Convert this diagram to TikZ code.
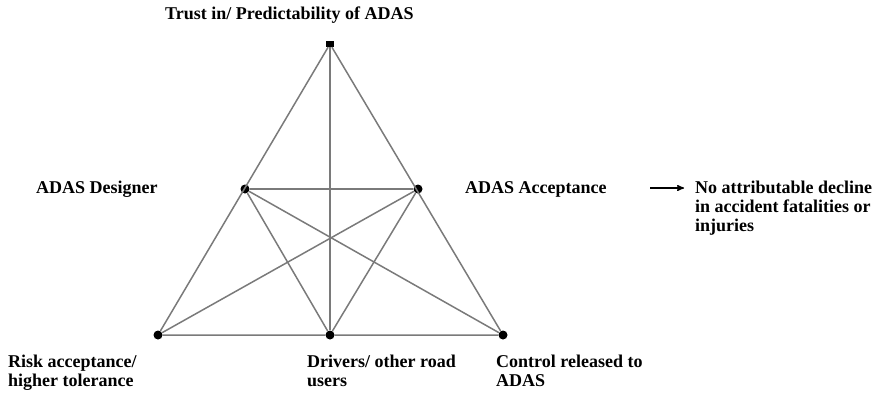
\documentclass[tikz,border=0pt]{standalone}
\usepackage{fontspec}
\setmainfont{Liberation Serif}
\usepackage{tikz}
\usetikzlibrary{positioning}
\usetikzlibrary{arrows}
\tikzset{
  corner/.style = {circle, fill=black, inner sep=0pt, minimum size=9pt},% vertex dot
  apex/.style = {rectangle, fill=black, inner sep=0pt, minimum width=8pt,
    minimum height=6pt},% top vertex
  lbl/.style = {align=left, inner sep=0pt, anchor=base west,
    font=\bfseries\fontsize{18}{19}\selectfont},
  web/.style = {draw=black!52, line width=1.5pt}
}
\begin{document}
\begin{tikzpicture}[x=1pt,y=-1pt,>=stealth']
\useasboundingbox (0,0) rectangle (888,394);
\node [apex] (trust) at (330,44) {};
\node [corner] (dsg) at (245,189) {};
\node [corner] (acc) at (418,189) {};
\node [corner] (risk) at (158,335) {};
\node [corner] (drv) at (330,335) {};
\node [corner] (ctl) at (503,335) {};
% outer triangle
\draw [web] (trust) -- (risk) -- (drv) -- (ctl) -- (trust);
% inner lines
\draw [web] (dsg) -- (acc);
\draw [web] (trust) -- (drv);
\draw [web] (dsg) -- (drv) -- (acc);
\draw [web] (dsg) -- (ctl);
\draw [web] (acc) -- (risk);
% labels (base = last line)
\node [lbl] (trustlbl) at (165,19) {Trust in/ Predictability of ADAS};
\node [lbl] (dsglbl) at (36,193) {ADAS Designer};
\node [lbl] (acclbl) at (465,193) {ADAS Acceptance};
\node [lbl] (outlbl) at (695,231) {No attributable decline\\in accident fatalities or\\injuries};
\node [lbl] (risklbl) at (8,386) {Risk acceptance/\\higher tolerance};
\node [lbl] (drvlbl) at (307,386) {Drivers/ other road\\users};
\node [lbl] (ctllbl) at (496,386) {Control released to\\ADAS};
% consequence arrow
\coordinate (arrfrom) at (650,188);
\coordinate (arrto) at (684,188);
\draw [->, line width=1.4pt] (arrfrom) -- (arrto);
\end{tikzpicture}
\end{document}
